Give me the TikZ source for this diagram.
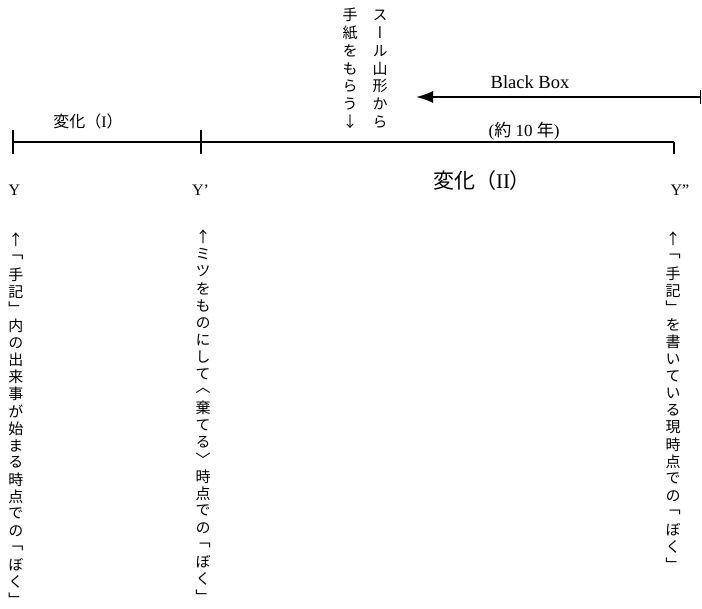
\documentclass[tikz,border=0pt]{standalone}
\usepackage{fontspec}
\setmainfont{Liberation Serif}
\newfontfamily\jp{Noto Sans CJK JP}
\newfontfamily\vjp[RawFeature=+vert]{Noto Sans CJK JP}
\usetikzlibrary{arrows.meta}
\ExplSyntaxOn
\NewDocumentCommand\vstack{mm}{
  \vbox:n { \offinterlineskip
    \tl_map_inline:nn {#2} { \hbox_to_wd:nn {1em} { \hss \vbox_to_ht:nn {#1} { \vss \hbox:n {##1} \vss } \hss } }
  }
}
\ExplSyntaxOff
\tikzset{
  axisline/.style={line width=1.8pt},
  vcol/.style={inner sep=0pt, anchor=north, font={\vjp\fontsize{15pt}{17pt}\selectfont}},
  lbl/.style={inner sep=0pt},
  ylbl/.style={inner sep=0pt, anchor=base, font={\fontsize{16pt}{18pt}\selectfont}},
}
\begin{document}
\begin{tikzpicture}[x=1pt,y=-1pt]
\useasboundingbox (0,0) rectangle (702,609);
% timeline
\coordinate (Y) at (13,142);
\coordinate (Yp) at (201,142);
\coordinate (Ypp) at (674,142);
\draw[axisline] (Y) -- (Ypp);
\draw[axisline] ([yshift=12pt]Y) -- ([yshift=-12pt]Y);
\draw[axisline] ([yshift=12pt]Yp) -- ([yshift=-12pt]Yp);
\draw[axisline] (Ypp) -- ([yshift=-12pt]Ypp);
% black box arrow
\coordinate (BBl) at (416,97);
\coordinate (BBr) at (700.5,97);
\draw[axisline, {Latex[length=17pt,width=12pt]}-] (BBl) -- (BBr);
\draw[axisline] ([yshift=7pt]BBr) -- ([yshift=-7pt]BBr);
% labels
\node[lbl, font={\jp\fontsize{16pt}{18pt}\selectfont}] (c1) at (88,121) {変化（{\rmfamily I}）};
\node[lbl, font={\jp\fontsize{21pt}{24pt}\selectfont}] (c2) at (482,181) {変化（{\rmfamily II}）};
\node[ylbl] (ly) at (14.5,196) {Y};
\node[ylbl] (lyp) at (200.5,196) {Y’};
\node[ylbl] (lypp) at (680,196) {Y”};
\node[lbl, anchor=base, font={\fontsize{18.5pt}{20pt}\selectfont}] (bb) at (530,89) {Black Box};
\node[lbl, font={\fontsize{17pt}{19pt}\selectfont}] (yrs) at (524,131) {({\jp 約} 10 {\jp 年})};
% vertical texts
\node[vcol] (v1) at (16,231.5) {\vstack{17.1pt}{↑「手記」内の出来事が始まる時点での「ぼく」}};
\node[vcol] (v2) at (203,228.5) {\vstack{17.1pt}{↑ミツをものにして〈棄てる〉時点での「ぼく」}};
\node[vcol] (v3) at (673,230.5) {\vstack{17.1pt}{↑「手記」を書いている現時点での「ぼく」}};
\node[vcol] (v4) at (380,6) {\vstack{17.8pt}{スール山形から}};
\node[vcol] (v5) at (350,6) {\vstack{17.8pt}{手紙をもらう↓}};
\end{tikzpicture}
\end{document}
